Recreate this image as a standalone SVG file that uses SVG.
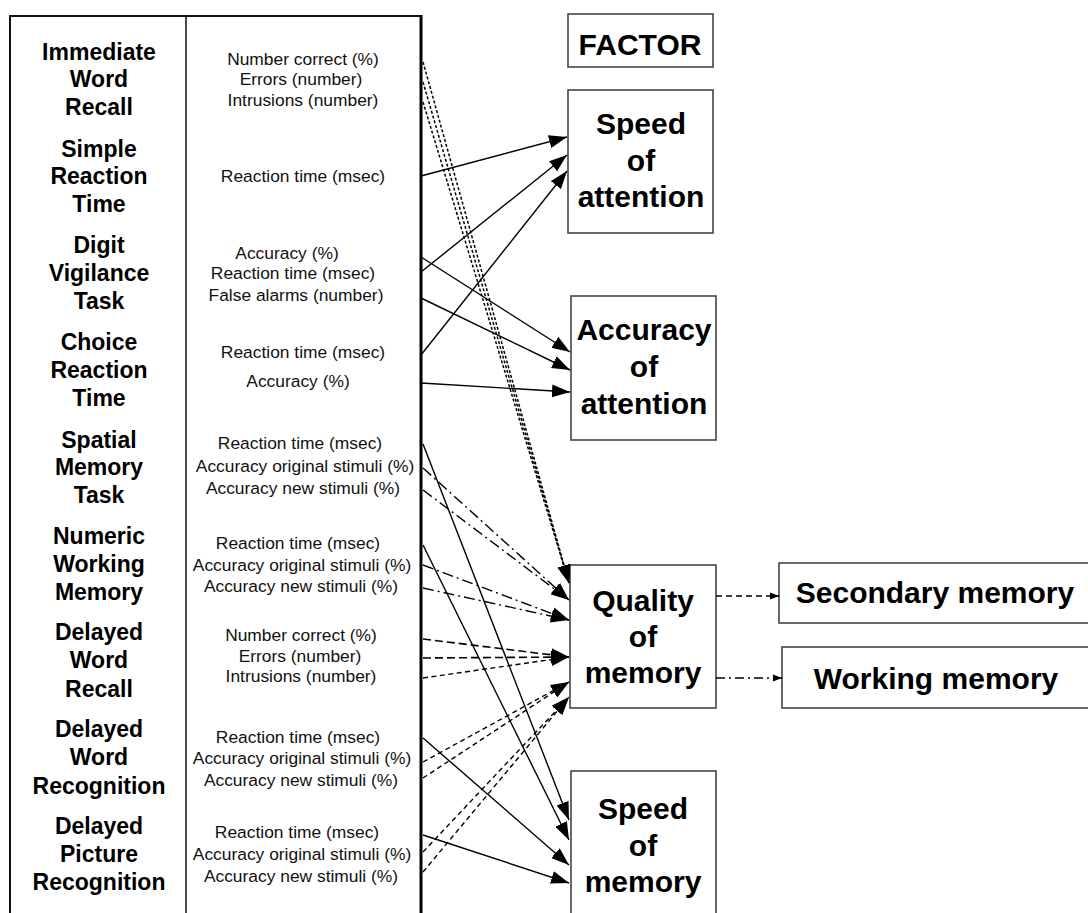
<svg xmlns="http://www.w3.org/2000/svg" width="1088" height="913" viewBox="0 0 1088 913">
<style>
  .name { font-family: "Liberation Sans", Arial, sans-serif; font-weight: bold; font-size: 23px; fill: #000; text-anchor: middle; }
  .meas { font-family: "Liberation Sans", Arial, sans-serif; font-size: 17.4px; fill: #111; text-anchor: middle; }
  .fac { font-family: "Liberation Sans", Arial, sans-serif; font-weight: bold; font-size: 30px; fill: #000; text-anchor: middle; }
  .box { fill: #fff; stroke: #444; stroke-width: 1.6; }
  .ln { fill: none; stroke: #000; stroke-width: 1.4; }
  .dot { stroke-dasharray: 3 2; stroke-width: 1.5; }
  .dash { stroke-dasharray: 8 4; stroke-width: 1.6; }
  .dashs { stroke-dasharray: 5 3.5; }
  .dd { stroke-dasharray: 11 4 2 4; }
</style>
<defs>
  <marker id="ah" markerWidth="20" markerHeight="14" refX="18" refY="7" orient="auto" markerUnits="userSpaceOnUse">
    <path d="M0,0.5 L18,7 L0,13.5 z" fill="#000"/>
  </marker>
  <marker id="ahs" markerWidth="10" markerHeight="8" refX="9" refY="4" orient="auto" markerUnits="userSpaceOnUse">
    <path d="M0,0.5 L9,4 L0,7.5 z" fill="#000"/>
  </marker>
</defs>
<rect width="1088" height="913" fill="#fff"/>

<g id="table">
  <rect x="10" y="16" width="411" height="910" fill="none" stroke="#111" stroke-width="2"/>
  <line x1="421" y1="15" x2="421" y2="913" stroke="#000" stroke-width="3"/>
  <line x1="186" y1="16" x2="186" y2="913" stroke="#111" stroke-width="1.5"/>
</g>

<g id="test-immediate-word-recall">
  <text class="name" x="99" y="60">Immediate</text>
  <text class="name" x="99" y="87">Word</text>
  <text class="name" x="99" y="115">Recall</text>
  <text class="meas" x="303" y="65">Number correct (%)</text>
  <text class="meas" x="301" y="85">Errors (number)</text>
  <text class="meas" x="303" y="106">Intrusions (number)</text>
</g>
<g id="test-simple-reaction-time">
  <text class="name" x="99" y="157">Simple</text>
  <text class="name" x="99" y="184">Reaction</text>
  <text class="name" x="99" y="212">Time</text>
  <text class="meas" x="303" y="182">Reaction time (msec)</text>
</g>
<g id="test-digit-vigilance">
  <text class="name" x="99" y="253">Digit</text>
  <text class="name" x="99" y="281">Vigilance</text>
  <text class="name" x="99" y="309">Task</text>
  <text class="meas" x="287" y="259">Accuracy (%)</text>
  <text class="meas" x="293" y="279">Reaction time (msec)</text>
  <text class="meas" x="296" y="301">False alarms (number)</text>
</g>
<g id="test-choice-reaction-time">
  <text class="name" x="99" y="350">Choice</text>
  <text class="name" x="99" y="378">Reaction</text>
  <text class="name" x="99" y="406">Time</text>
  <text class="meas" x="303" y="358">Reaction time (msec)</text>
  <text class="meas" x="298" y="387">Accuracy (%)</text>
</g>
<g id="test-spatial-memory">
  <text class="name" x="99" y="448">Spatial</text>
  <text class="name" x="99" y="475">Memory</text>
  <text class="name" x="99" y="503">Task</text>
  <text class="meas" x="300" y="449">Reaction time (msec)</text>
  <text class="meas" x="305" y="472">Accuracy original stimuli (%)</text>
  <text class="meas" x="303" y="494">Accuracy new stimuli (%)</text>
</g>
<g id="test-numeric-working-memory">
  <text class="name" x="99" y="544">Numeric</text>
  <text class="name" x="99" y="572">Working</text>
  <text class="name" x="99" y="600">Memory</text>
  <text class="meas" x="298" y="549">Reaction time (msec)</text>
  <text class="meas" x="302" y="571">Accuracy original stimuli (%)</text>
  <text class="meas" x="301" y="592">Accuracy new stimuli (%)</text>
</g>
<g id="test-delayed-word-recall">
  <text class="name" x="99" y="640">Delayed</text>
  <text class="name" x="99" y="668">Word</text>
  <text class="name" x="99" y="697">Recall</text>
  <text class="meas" x="301" y="641">Number correct (%)</text>
  <text class="meas" x="300" y="662">Errors (number)</text>
  <text class="meas" x="301" y="682">Intrusions (number)</text>
</g>
<g id="test-delayed-word-recognition">
  <text class="name" x="99" y="737">Delayed</text>
  <text class="name" x="99" y="765">Word</text>
  <text class="name" x="99" y="794">Recognition</text>
  <text class="meas" x="298" y="743">Reaction time (msec)</text>
  <text class="meas" x="302" y="764">Accuracy original stimuli (%)</text>
  <text class="meas" x="301" y="786">Accuracy new stimuli (%)</text>
</g>
<g id="test-delayed-picture-recognition">
  <text class="name" x="99" y="834">Delayed</text>
  <text class="name" x="99" y="862">Picture</text>
  <text class="name" x="99" y="890">Recognition</text>
  <text class="meas" x="297" y="838">Reaction time (msec)</text>
  <text class="meas" x="302" y="860">Accuracy original stimuli (%)</text>
  <text class="meas" x="301" y="882">Accuracy new stimuli (%)</text>
</g>

<g id="factor-header">
  <rect class="box" x="568" y="14" width="145" height="53"/>
  <text class="fac" x="640" y="55">FACTOR</text>
</g>
<g id="speed-of-attention">
  <rect class="box" x="568" y="90" width="145" height="143"/>
  <text class="fac" x="641" y="134">Speed</text>
  <text class="fac" x="641" y="171">of</text>
  <text class="fac" x="641" y="207">attention</text>
</g>
<g id="accuracy-of-attention">
  <rect class="box" x="571" y="296" width="145" height="144"/>
  <text class="fac" x="644" y="340">Accuracy</text>
  <text class="fac" x="644" y="377">of</text>
  <text class="fac" x="644" y="414">attention</text>
</g>
<g id="quality-of-memory">
  <rect class="box" x="570" y="565" width="146" height="143"/>
  <text class="fac" x="643" y="611">Quality</text>
  <text class="fac" x="643" y="647">of</text>
  <text class="fac" x="643" y="683">memory</text>
</g>
<g id="speed-of-memory">
  <rect class="box" x="571" y="771" width="145" height="160"/>
  <text class="fac" x="643" y="819">Speed</text>
  <text class="fac" x="643" y="856">of</text>
  <text class="fac" x="643" y="892">memory</text>
</g>
<g id="secondary-memory">
  <rect class="box" x="779" y="563" width="330" height="60"/>
  <text class="fac" x="935" y="603">Secondary memory</text>
</g>
<g id="working-memory">
  <rect class="box" x="782" y="647" width="330" height="61"/>
  <text class="fac" x="936" y="689">Working memory</text>
</g>

<g id="connectors">
  <line class="ln" x1="421" y1="176" x2="567" y2="137" marker-end="url(#ah)"/>
  <line class="ln" x1="421" y1="272" x2="567" y2="155" marker-end="url(#ah)"/>
  <line class="ln" x1="421" y1="355" x2="567" y2="171" marker-end="url(#ah)"/>
  <line class="ln" x1="421" y1="257" x2="570" y2="352" marker-end="url(#ah)"/>
  <line class="ln" x1="421" y1="298" x2="570" y2="370" marker-end="url(#ah)"/>
  <line class="ln" x1="421" y1="383" x2="570" y2="392" marker-end="url(#ah)"/>
  <line class="ln dot" x1="423" y1="62" x2="569" y2="583" marker-end="url(#ah)"/>
  <line class="ln dot" x1="423" y1="82" x2="569" y2="583" marker-end="url(#ah)"/>
  <line class="ln dot" x1="423" y1="102" x2="569" y2="583" marker-end="url(#ah)"/>
  <line class="ln dd" x1="423" y1="468" x2="569" y2="600" marker-end="url(#ah)"/>
  <line class="ln dd" x1="423" y1="490" x2="569" y2="600" marker-end="url(#ah)"/>
  <line class="ln dd" x1="423" y1="565" x2="569" y2="620" marker-end="url(#ah)"/>
  <line class="ln dd" x1="423" y1="588" x2="569" y2="620" marker-end="url(#ah)"/>
  <line class="ln dash" x1="423" y1="639" x2="569" y2="657" marker-end="url(#ah)"/>
  <line class="ln dash" x1="423" y1="658" x2="569" y2="657" marker-end="url(#ah)"/>
  <line class="ln dashs" x1="423" y1="678" x2="569" y2="657" marker-end="url(#ah)"/>
  <line class="ln dashs" x1="423" y1="762" x2="569" y2="682" marker-end="url(#ah)"/>
  <line class="ln dashs" x1="423" y1="778" x2="569" y2="682" marker-end="url(#ah)"/>
  <line class="ln dashs" x1="423" y1="852" x2="569" y2="697" marker-end="url(#ah)"/>
  <line class="ln dashs" x1="423" y1="872" x2="569" y2="697" marker-end="url(#ah)"/>
  <line class="ln" x1="423" y1="444" x2="569" y2="820" marker-end="url(#ah)"/>
  <line class="ln" x1="423" y1="545" x2="569" y2="840" marker-end="url(#ah)"/>
  <line class="ln" x1="423" y1="738" x2="569" y2="865" marker-end="url(#ah)"/>
  <line class="ln" x1="423" y1="835" x2="569" y2="883" marker-end="url(#ah)"/>
  <line class="ln" x1="716" y1="596" x2="779" y2="596" stroke-dasharray="6 4" marker-end="url(#ahs)"/>
  <line class="ln" x1="716" y1="678" x2="782" y2="678" stroke-dasharray="9 4 2 4" marker-end="url(#ahs)"/>
</g>
</svg>
